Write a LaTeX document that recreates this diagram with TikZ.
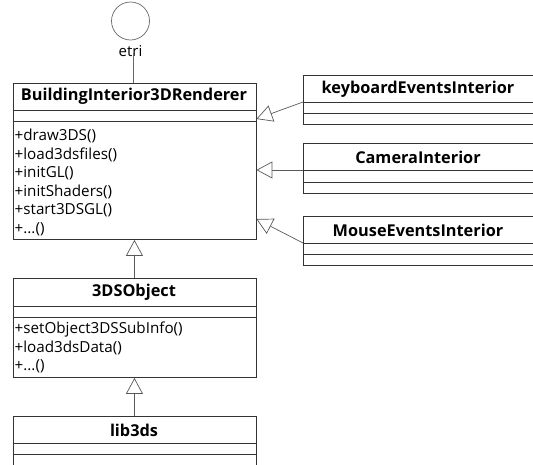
\documentclass[tikz,border=0pt]{standalone}
\usepackage{fontspec}
\setmainfont{Open Sans}
\usetikzlibrary{arrows.meta,calc}
\begin{document}
\begin{tikzpicture}[x=1pt,y=-1pt,
  classbox/.style={draw=black!80, line width=0.9pt, fill=white, anchor=north west,
    inner sep=0pt, rectangle},
  classtitle/.style={font=\bfseries\fontsize{16.3}{18}\selectfont, inner sep=0pt},
  member/.style={font=\fontsize{15.2}{17}\selectfont, anchor=west, inner sep=0pt},
  sepline/.style={draw=black!80, line width=0.9pt},
  gen/.style={draw=black!65, line width=0.7pt,
    -{Triangle[open, length=16pt, width=17pt, fill=white]}},
  iface/.style={draw=black!60, line width=0.7pt}]
\useasboundingbox (0,0) rectangle (533,464);

% provided interface "etri"
\node[circle, iface, minimum size=38pt, inner sep=0pt] (etri) at (130.5,21) {};
\node[font=\fontsize{15}{17}\selectfont, inner sep=0pt] (etriL) at (130.5,51) {etri};

% BuildingInterior3DRenderer
\node[classbox, minimum width=243pt, minimum height=156pt] (main) at (12.5,83) {};
\draw[sepline] ([yshift=-27pt]main.north west) -- ([yshift=-27pt]main.north east);
\draw[sepline] ([yshift=-38pt]main.north west) -- ([yshift=-38pt]main.north east);
\node[classtitle] (mainT) at (134,96.5) {BuildingInterior3DRenderer};
\node[member] (m1) at (14.5,136) {+draw3DS()};
\node[member] (m2) at (14.5,154.7) {+load3dsfiles()};
\node[member] (m3) at (14.5,173.3) {+initGL()};
\node[member] (m4) at (14.5,191.7) {+initShaders()};
\node[member] (m5) at (14.5,210.3) {+start3DSGL()};
\node[member] (m6) at (14.5,229) {+...()};

\draw[iface] ([xshift=-1pt]main.north |- etriL.south) ++(0,-4) -- ([xshift=-1pt]main.north);

% keyboardEventsInterior
\node[classbox, minimum width=229.5pt, minimum height=49pt] (kb) at (303,75) {};
\draw[sepline] ([yshift=-27pt]kb.north west) -- ([yshift=-27pt]kb.north east);
\draw[sepline] ([yshift=-38pt]kb.north west) -- ([yshift=-38pt]kb.north east);
\node[classtitle] (kbT) at (418,89) {keyboardEventsInterior};

% CameraInterior
\node[classbox, minimum width=229.5pt, minimum height=50pt] (cam) at (303,143) {};
\draw[sepline] ([yshift=-27pt]cam.north west) -- ([yshift=-27pt]cam.north east);
\draw[sepline] ([yshift=-39pt]cam.north west) -- ([yshift=-39pt]cam.north east);
\node[classtitle] (camT) at (418,157.5) {CameraInterior};

% MouseEventsInterior
\node[classbox, minimum width=229.5pt, minimum height=49pt] (mouse) at (303,216) {};
\draw[sepline] ([yshift=-27pt]mouse.north west) -- ([yshift=-27pt]mouse.north east);
\draw[sepline] ([yshift=-38pt]mouse.north west) -- ([yshift=-38pt]mouse.north east);
\node[classtitle] (mouseT) at (418,230) {MouseEventsInterior};

% 3DSObject
\node[classbox, minimum width=243pt, minimum height=99pt] (obj) at (12.5,278) {};
\draw[sepline] ([yshift=-28pt]obj.north west) -- ([yshift=-28pt]obj.north east);
\draw[sepline] ([yshift=-39pt]obj.north west) -- ([yshift=-39pt]obj.north east);
\node[classtitle] (objT) at (134,292.5) {3DSObject};
\node[member] (o1) at (14.5,329.3) {+setObject3DSSubInfo()};
\node[member] (o2) at (14.5,348.3) {+load3dsData()};
\node[member] (o3) at (14.5,366.7) {+...()};

% lib3ds
\node[classbox, minimum width=243pt, minimum height=70pt] (lib) at (12.5,416) {};
\draw[sepline] ([yshift=-27pt]lib.north west) -- ([yshift=-27pt]lib.north east);
\draw[sepline] ([yshift=-38pt]lib.north west) -- ([yshift=-38pt]lib.north east);
\node[classtitle] (libT) at (134,430) {lib3ds};

% generalisation arrows
\draw[gen] (obj.north) -- (main.south);
\draw[gen] (lib.north) -- (obj.south);
\draw[gen] ([yshift=-27pt]kb.north west) -- ($(main.north east)+(0,36)$);
\draw[gen] ([yshift=-27pt]cam.north west) -- ([yshift=-27pt]cam.north west -| main.east);
\draw[gen] ([yshift=-27pt]mouse.north west) -- ($(main.north east)+(0,136)$);
\end{tikzpicture}
\end{document}
